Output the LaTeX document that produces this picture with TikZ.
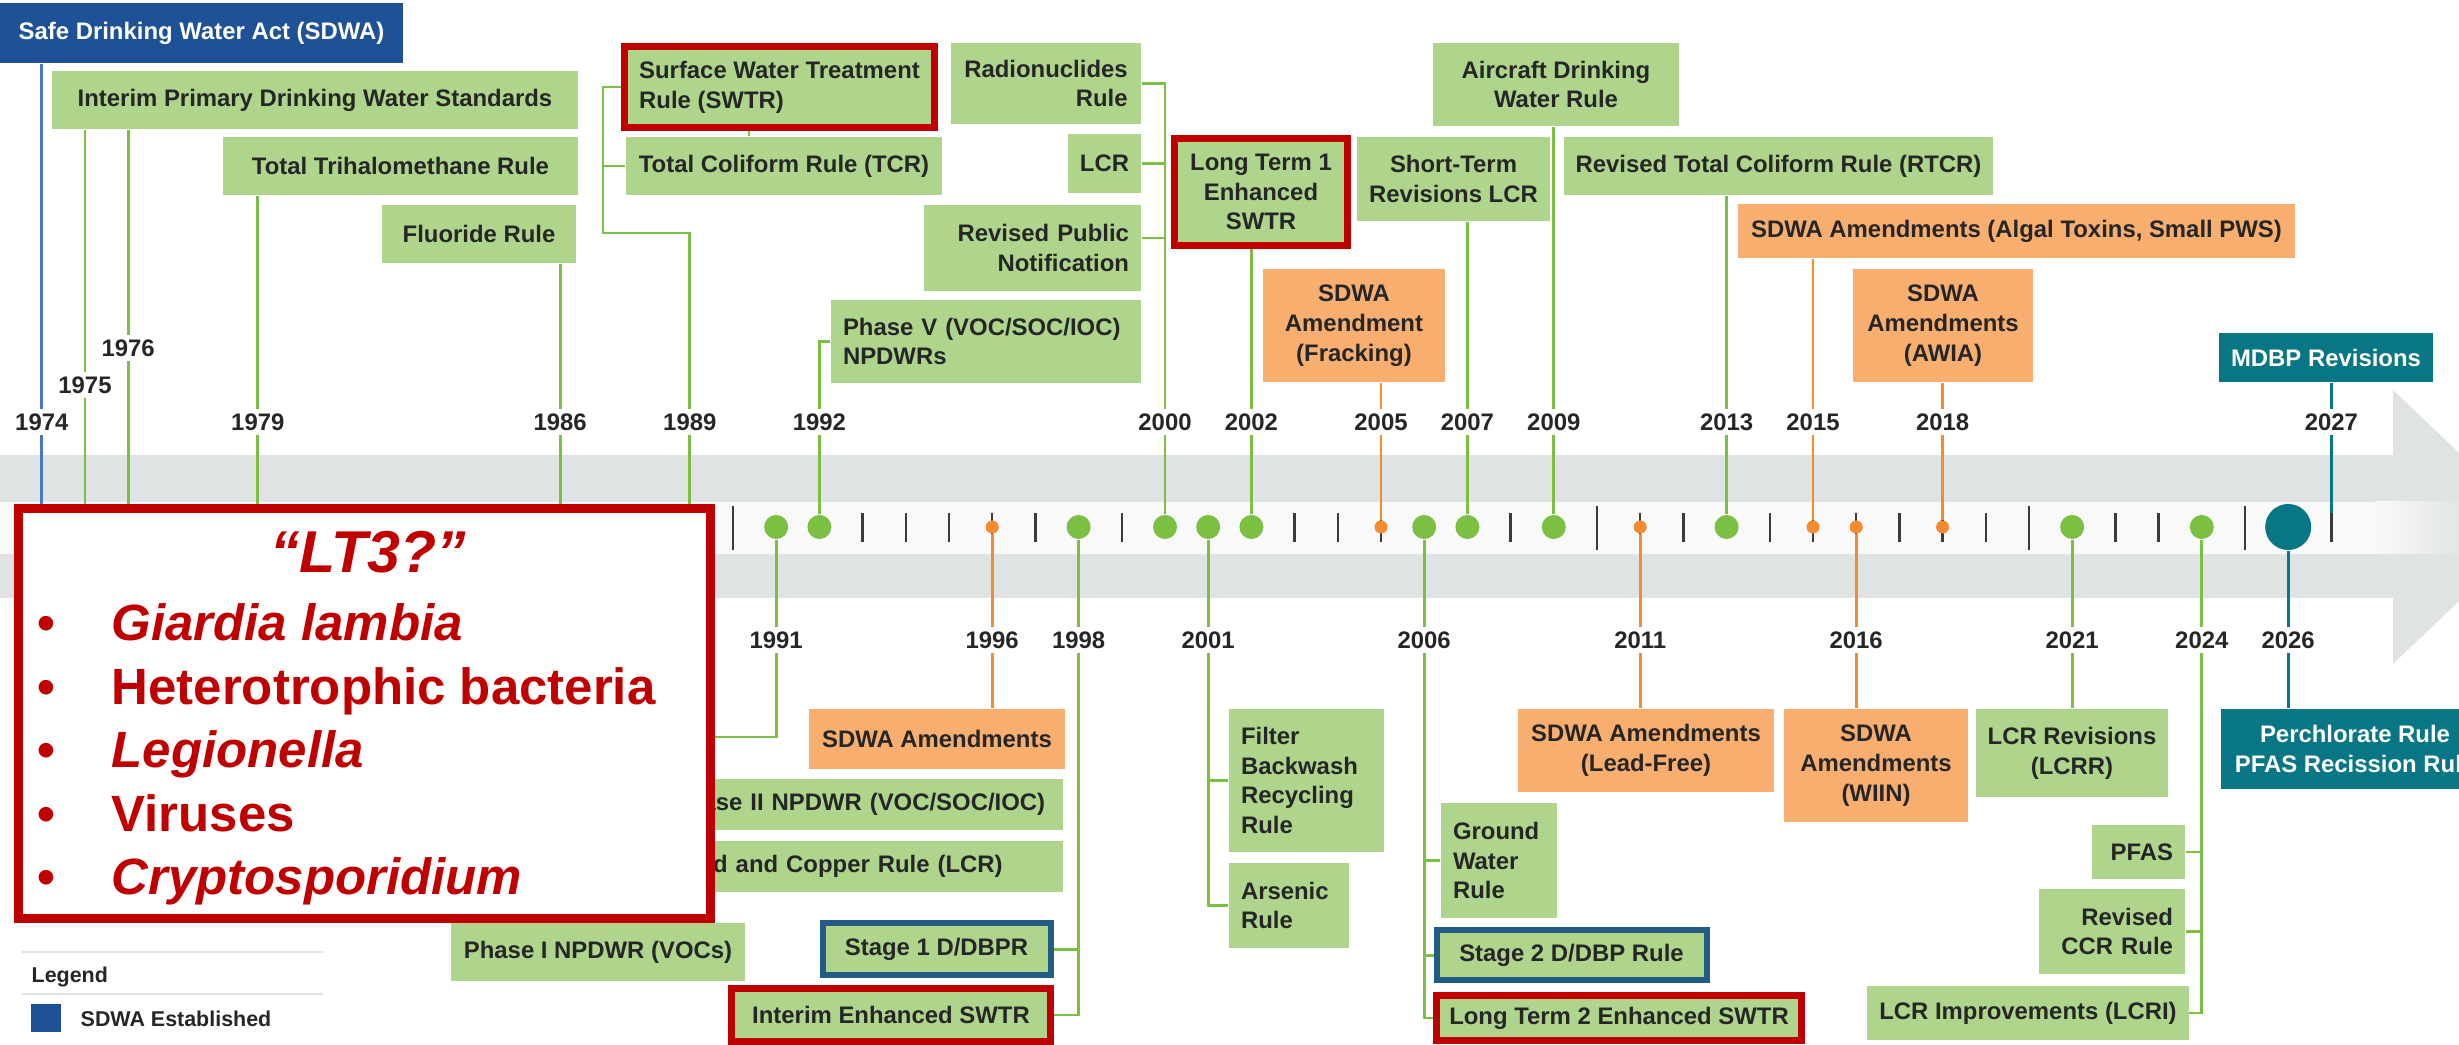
\documentclass[tikz,border=0pt]{standalone}
\usepackage{fontspec}
\setmainfont{Liberation Sans}
\definecolor{sdwablue}{HTML}{1F5197}
\definecolor{sdwaline}{HTML}{4A78C0}
\definecolor{rulegreen}{HTML}{AFD58C}
\definecolor{linegreen}{HTML}{7BC043}
\definecolor{amendorange}{HTML}{F7AE6F}
\definecolor{lineorange}{HTML}{F58A2E}
\definecolor{futureteal}{HTML}{087684}
\definecolor{hlred}{HTML}{C00000}
\definecolor{hlblue}{HTML}{225B84}
\definecolor{bargray}{HTML}{DFE3E3}
\definecolor{barstrip}{HTML}{F9F9F9}
\definecolor{ink}{HTML}{262626}
\definecolor{tickgray}{HTML}{3A3A3A}
\newcommand{\lblfont}{\fontsize{6.8}{8.5}\selectfont\bfseries}
\newcommand{\yrx}[1]{733+43.2*(#1-1990)}
\tikzset{
  rulebox/.style={fill=rulegreen, text=ink, font=\lblfont, inner xsep=1.2mm, inner ysep=0pt},
  amendbox/.style={rulebox, fill=amendorange},
  futurebox/.style={rulebox, fill=futureteal, text=white},
  sdwabox/.style={rulebox, fill=sdwablue, text=white},
  redbox/.style={draw=hlred, line width=0.7mm},
  bluebox/.style={draw=hlblue, line width=0.6mm},
  yrlbl/.style={font=\lblfont, text=ink, inner sep=0.4mm},
  gline/.style={draw=linegreen, line width=0.28mm},
  oline/.style={draw=lineorange, line width=0.28mm},
  tline/.style={draw=futureteal, line width=0.28mm},
  bline/.style={draw=sdwaline, line width=0.28mm},
  gdot/.style={circle, fill=linegreen, minimum size=2.4mm, inner sep=0pt},
  odot/.style={circle, fill=lineorange, minimum size=1.3mm, inner sep=0pt},
  tdot/.style={circle, fill=futureteal, minimum size=4.6mm, inner sep=0pt},
  yrtick/.style={draw=tickgray, line width=0.25mm},
  lt3box/.style={draw=hlred, line width=0.9mm, fill=white},
  lt3txt/.style={text=hlred, font=\fontsize{14.5}{17}\selectfont\bfseries, inner sep=0pt},
  legtxt/.style={text=ink, font=\fontsize{6.1}{7}\selectfont\bfseries, inner xsep=0pt},
  legrule/.style={draw=bargray, line width=0.2mm}
}

\begin{document}
\begin{tikzpicture}[x=0.1mm, y=-0.1mm]
	\useasboundingbox (0,0) rectangle (2459,1045);
	\clip (0,0) rectangle (2459,1045);
	\fill[bargray] (0,455) rectangle (2393,598);
	\fill[bargray] (2393,390) -- (2537,527) -- (2393,664) -- cycle;
	\fill[barstrip] (0,502) rectangle (2375,554);
	\shade[left color=barstrip, right color=bargray] (2375,502) rectangle (2470,554);
	\foreach \yr in {1993,1994,1995,1996,1997,1999,2003,2004,2005,2008,2011,2012,2014,2015,2016,2017,2018,2019,2022,2023,2027}
		\draw[yrtick] ({\yrx{\yr}},513) -- ++(0,29);
	\foreach \yr in {1990,2010,2020,2025}
		\draw[yrtick] ({\yrx{\yr}},506) -- ++(0,44);
	
	\foreach \yr in {1974,1975,1976,1979,1986,1989} \coordinate (d\yr) at ({\yrx{\yr}},527);
	\coordinate (d2027) at ({\yrx{2027}},513);
	\foreach \yr in {1991,1992,1998,2000,2001,2002,2006,2007,2009,2013,2021,2024} \node[gdot] (d\yr) at ({\yrx{\yr}},527) {};
	\foreach \yr in {1996,2005,2011,2015,2016,2018} \node[odot] (d\yr) at ({\yrx{\yr}},527) {};
	\node[tdot] (d2026) at ({\yrx{2026}},527) {};
	
	\foreach \yr in {1974,1979,1986,1989,1992,2000,2002,2005,2007,2009,2013,2015,2018,2027} \node[yrlbl] (n\yr) at ({\yrx{\yr}},422) {\yr};
	\node[yrlbl] (n1975) at ({\yrx{1975}},385) {1975};
	\node[yrlbl] (n1976) at ({\yrx{1976}},348) {1976};
	\foreach \yr in {1991,1996,1998,2001,2006,2011,2016,2021,2024,2026} \node[yrlbl] (n\yr) at ({\yrx{\yr}},640) {\yr};
	
	\node[sdwabox, minimum width=40.3mm, minimum height=6mm] (sdwa) at (201.5,33) {Safe Drinking Water Act (SDWA)};
	\node[rulebox, minimum width=52.6mm, minimum height=5.8mm] (ipdws) at (315,100) {Interim Primary Drinking Water Standards};
	\node[rulebox, minimum width=35.5mm, minimum height=5.8mm] (tthm) at (400.5,166) {Total Trihalomethane Rule};
	\node[rulebox, minimum width=19.4mm, minimum height=5.8mm] (fluor) at (479,234) {Fluoride Rule};
	\node[rulebox, redbox, minimum width=31mm, minimum height=8.1mm, align=left] (swtr) at (779.5,87) {Surface Water Treatment\\Rule (SWTR)};
	\node[rulebox, minimum width=31.6mm, minimum height=5.8mm] (tcr) at (784,166) {Total Coliform Rule (TCR)};
	\node[rulebox, minimum width=19mm, minimum height=8.1mm, align=right] (radio) at (1046,83.5) {Radionuclides\\Rule};
	\node[rulebox, minimum width=7.3mm, minimum height=5.9mm] (lcr) at (1104.5,163.5) {LCR};
	\node[rulebox, text width=19.3mm, minimum height=8.6mm, align=right] (rpn) at (1032.5,248) {Revised Public\\Notification};
	\node[rulebox, text width=28.6mm, minimum height=8.3mm, align=left] (phv) at (986,341.5) {Phase V (VOC/SOC/IOC)\\NPDWRs};
	\node[rulebox, redbox, minimum width=17.3mm, minimum height=10.7mm, align=center] (lt1) at (1261,192) {Long Term 1\\Enhanced\\SWTR};
	\node[amendbox, minimum width=18.2mm, minimum height=11.3mm, align=center] (frack) at (1354,325.5) {SDWA\\Amendment\\(Fracking)};
	\node[rulebox, minimum width=18.7mm, minimum height=8.4mm, align=center] (strl) at (1453.5,179) {Short-Term\\Revisions LCR};
	\node[rulebox, minimum width=24.6mm, minimum height=8.3mm, align=center] (aircraft) at (1556,84.5) {Aircraft Drinking\\Water Rule};
	\node[rulebox, minimum width=42.7mm, minimum height=5.8mm] (rtcr) at (1778.5,166) {Revised Total Coliform Rule (RTCR)};
	\node[amendbox, minimum width=55.7mm, minimum height=5.4mm] (algal) at (2016.5,231) {SDWA Amendments (Algal Toxins, Small PWS)};
	\node[amendbox, minimum width=18mm, minimum height=11.3mm, align=center] (awia) at (1943,325.5) {SDWA\\Amendments\\(AWIA)};
	\node[futurebox, minimum width=21.2mm, minimum height=4.9mm] (mdbp) at (2326,357.5) {MDBP Revisions};
	
	\node[amendbox, minimum width=25.6mm, minimum height=6mm] (amd96) at (937,739) {SDWA Amendments};
	\node[rulebox, text width=37.9mm, minimum height=5.1mm, align=left] (ph2) at (861.5,804.5) {Phase II NPDWR (VOC/SOC/IOC)};
	\node[rulebox, text width=37.9mm, minimum height=5.1mm, align=left] (lcr91) at (861.5,866.5) {Lead and Copper Rule (LCR)};
	\node[rulebox, minimum width=29.4mm, minimum height=5.8mm] (ph1) at (598,952) {Phase I NPDWR (VOCs)};
	\node[rulebox, bluebox, minimum width=22.8mm, minimum height=5.2mm] (st1) at (936.5,949.5) {Stage 1 D/DBPR};
	\node[rulebox, redbox, minimum width=31.9mm, minimum height=5.3mm] (iesw) at (891,1015) {Interim Enhanced SWTR};
	\node[rulebox, text width=13.1mm, minimum height=14.3mm, align=left] (fbrr) at (1306.5,780.5) {Filter\\Backwash\\Recycling\\Rule};
	\node[rulebox, text width=9.6mm, minimum height=8.5mm, align=left] (ars) at (1289,905.5) {Arsenic\\Rule};
	\node[rulebox, text width=9.2mm, minimum height=11.5mm, align=left] (gwr) at (1499,860.5) {Ground\\Water\\Rule};
	\node[rulebox, bluebox, minimum width=27mm, minimum height=5mm] (st2) at (1571.5,955.5) {Stage 2 D/DBP Rule};
	\node[rulebox, redbox, minimum width=36.5mm, minimum height=4.5mm] (lt2) at (1619,1018) {Long Term 2 Enhanced SWTR};
	\node[amendbox, minimum width=25.6mm, minimum height=8.3mm, align=center] (leadfree) at (1646,750.5) {SDWA Amendments\\(Lead-Free)};
	\node[amendbox, minimum width=18.4mm, minimum height=11.3mm, align=center] (wiin) at (1876,765.5) {SDWA\\Amendments\\(WIIN)};
	\node[rulebox, minimum width=18.6mm, minimum height=8.8mm, align=center] (lcrr) at (2072,753) {LCR Revisions\\(LCRR)};
	\node[rulebox, text width=6.9mm, minimum height=5.4mm, align=right] (pfas) at (2138.5,852) {PFAS};
	\node[rulebox, text width=12.2mm, minimum height=8.5mm, align=right] (ccr) at (2112,931.5) {Revised\\CCR Rule};
	\node[rulebox, minimum width=31.4mm, minimum height=5.4mm] (lcri) at (2028,1013) {LCR Improvements (LCRI)};
	\node[futurebox, minimum width=26.8mm, minimum height=8mm, align=center] (perch) at (2355,749) {Perchlorate Rule\\PFAS Recission Rule};
	
	\draw[bline] (sdwa.south -| d1974) -- (n1974) -- (d1974);
	\draw[gline] (ipdws.south -| d1975) -- (n1975) -- (d1975);
	\draw[gline] (ipdws.south -| d1976) -- (n1976) -- (d1976);
	\draw[gline] (tthm.south -| d1979) -- (n1979) -- (d1979);
	\draw[gline] (fluor.south -| d1986) -- (n1986) -- (d1986);
	\coordinate (k1989) at (603,233);
	\coordinate (kswtr) at (749,0);
	\draw[gline] (swtr.west) -- (swtr.west -| k1989) -- (k1989) -- (k1989 -| d1989) -- (n1989) -- (d1989);
	\draw[gline] (tcr.west) -- (tcr.west -| k1989);
	\draw[gline] (swtr.south -| kswtr) -- (tcr.north -| kswtr);
	\draw[gline] (phv.west) -- (phv.west -| d1992) -- (n1992) -- (d1992);
	\coordinate (rpnc) at ([yshift=1mm]rpn.east);
	\draw[gline] (radio.east) -- (radio.east -| d2000) -- (n2000) -- (d2000);
	\draw[gline] (lcr.east) -- (lcr.east -| d2000);
	\draw[gline] (rpnc) -- (rpnc -| d2000);
	\draw[gline] (lt1.south -| d2002) -- (n2002) -- (d2002);
	\draw[oline] (frack.south -| d2005) -- (n2005) -- (d2005);
	\draw[gline] (strl.south -| d2007) -- (n2007) -- (d2007);
	\draw[gline] (aircraft.south -| d2009) -- (n2009) -- (d2009);
	\draw[gline] (rtcr.south -| d2013) -- (n2013) -- (d2013);
	\draw[oline] (algal.south -| d2015) -- (n2015) -- (d2015);
	\draw[oline] (awia.south -| d2018) -- (n2018) -- (d2018);
	\draw[tline] (mdbp.south -| d2027) -- (n2027) -- (d2027);
	
	\coordinate (k1991) at (700,737);
	\draw[gline] (d1991) -- (n1991) -- (k1991 -| d1991) -- (k1991);
	\draw[oline] (d1996) -- (n1996) -- (amd96.north -| d1996);
	\draw[gline] (d1998) -- (n1998) -- (iesw.east -| d1998) -- (iesw.east);
	\draw[gline] (st1.east) -- (st1.east -| d1998);
	\draw[gline] (d2001) -- (n2001) -- (ars.west -| d2001) -- (ars.west);
	\draw[gline] (fbrr.west) -- (fbrr.west -| d2001);
	\draw[gline] (d2006) -- (n2006) -- (lt2.west -| d2006) -- (lt2.west);
	\draw[gline] (gwr.west) -- (gwr.west -| d2006);
	\draw[gline] (st2.west) -- (st2.west -| d2006);
	\draw[oline] (d2011) -- (n2011) -- (leadfree.north -| d2011);
	\draw[oline] (d2016) -- (n2016) -- (wiin.north -| d2016);
	\draw[gline] (d2021) -- (n2021) -- (lcrr.north -| d2021);
	\draw[gline] (d2024) -- (n2024) -- (lcri.east -| d2024) -- (lcri.east);
	\draw[gline] (pfas.east) -- (pfas.east -| d2024);
	\draw[gline] (ccr.east) -- (ccr.east -| d2024);
	\draw[tline] (d2026) -- (n2026) -- (perch.north -| d2026);
	
	\node[lt3box, minimum width=69.2mm, minimum height=41mm] (lt3) at (364.5,713.5) {};
	\node[lt3txt, font=\fontsize{16.8}{20}\selectfont\bfseries\itshape, anchor=base] (lt3q) at (368,573) {“LT3?”};
	\foreach \t [count=\i] in {{\itshape Giardia lambia}, Heterotrophic bacteria, {\itshape Legionella}, Viruses, {\itshape Cryptosporidium}} {
		\node[lt3txt, anchor=base] (bul\i) at (46,{577.5+63.5*\i}) {•};
		\node[lt3txt, anchor=base west] (bug\i) at (111,{577.5+63.5*\i}) {\t};
	}
	
	\draw[legrule] (22,952) -- (323,952);
	\node[legtxt, anchor=west] (legend) at (31,977) {Legend};
	\draw[legrule] (22,994) -- (323,994);
	\node[fill=sdwablue, minimum width=3mm, minimum height=2.8mm, inner sep=0pt] (legkey) at (46,1018) {};
	\node[legtxt, anchor=west] (legsdwa) at (80,1019) {SDWA Established};
\end{tikzpicture}
\end{document}
